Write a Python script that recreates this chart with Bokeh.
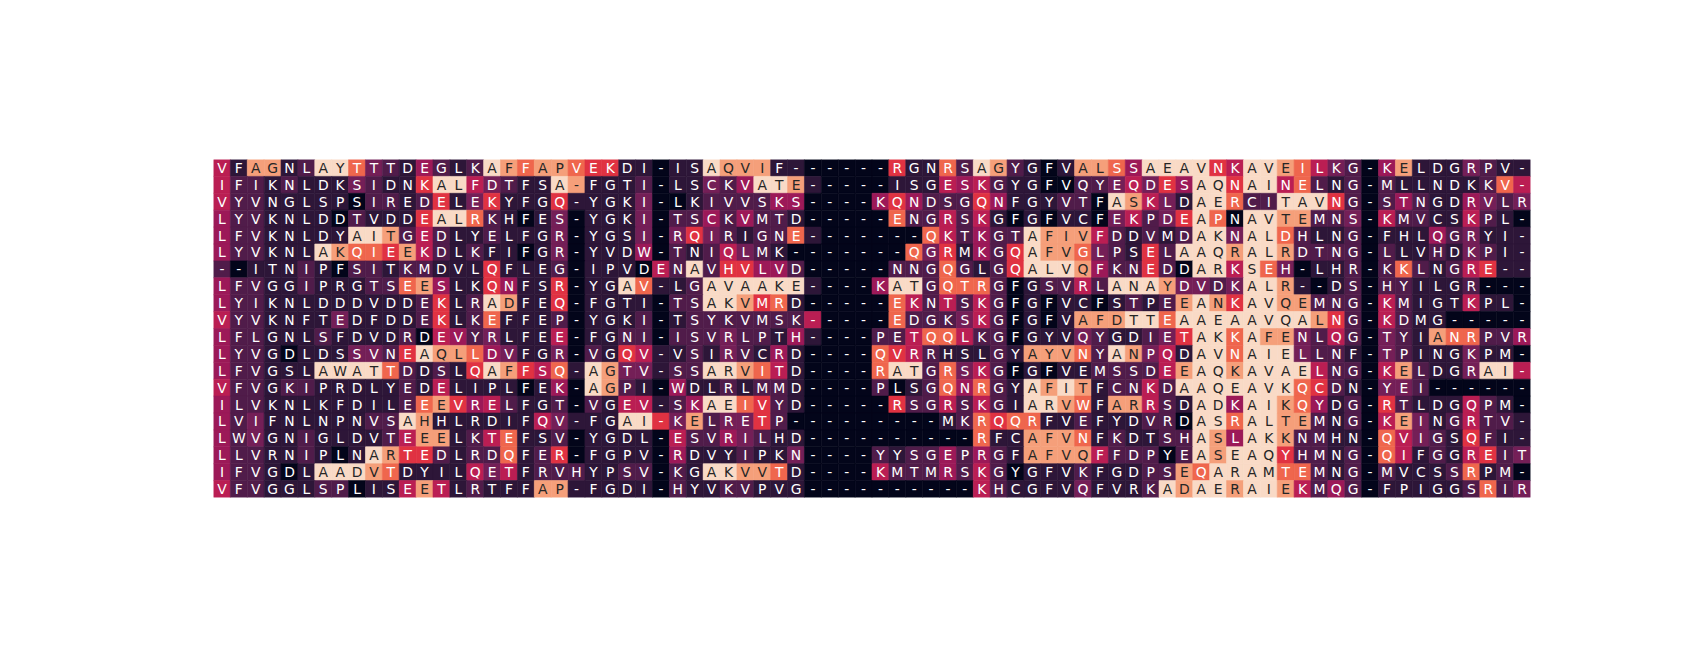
from bokeh.plotting import figure
from bokeh.models import ColumnDataSource, Range1d
from bokeh.core.properties import value
from bokeh.embed import file_html
from bokeh.resources import INLINE

# aligned sequences (one string per row, one letter per column)
seqs = [
    "VFAGNLAYTTTDEGLKAFFAPVEKDI-ISAQVIF------RGNRSAGYGFVALSSAEAVNKAVEILKG-KELDGRPV-",
    "IFIKNLDKSIDNKALFDTFSA-FGTI-LSCKVATE-----ISGESKGYGFVQYEQDESAQNAINELNG-MLLNDKKV-",
    "VYVNGLSPSIREDELEKYFGQ-YGKI-LKIVVSKS----KQNDSGQNFGYVTFASKLDAERCITAVNG-STNGDRVLR",
    "LYVKNLDDTVDDEALRKHFES-YGKI-TSCKVMTD-----ENGRSKGFGFVCFEKPDEAPNAVTEMNS-KMVCSKPL-",
    "LFVKNLDYAITGEDLYELFGR-YGSI-RQIRIGNE-------QKTKGTAFIVFDDVMDAKNALDHLNG-FHLQGRYI-",
    "LYVKNLAKQIEEKDLKFIFGR-YVDW-TNIQLMK-------QGRMKGQAFVGLPSELAAQRALRDTNG-LLVHDKPI-",
    "--ITNIPFSITKMDVLQFLEG-IPVDENAVHVLVD-----NNGQGLGQALVQFKNEDDARKSEH-LHR-KKLNGRE--",
    "LFVGGIPRGTSEESLKQNFSR-YGAV-LGAVAAKE----KATGQTRGFGSVRLANAYDVDKALR--DS-HYILGR---",
    "LYIKNLDDDVDDEKLRADFEQ-FGTI-TSAKVMRD-----EKNTSKGFGFVCFSTPEEANKAVQEMNG-KMIGTKPL-",
    "VYVKNFTEDFDDEKLKEFFEP-YGKI-TSYKVMSK-----EDGKSKGFGFVAFDTTEAAEAAVQALNG-KDMG-----",
    "LFLGNLSFDVDRDEVYRLFEE-FGNI-ISVRLPTH----PETQQLKGFGYVQYGDIETAKKAFENLQG-TYIANRPVR",
    "LYVGDLDSSVNEAQLLDVFGR-VGQV-VSIRVCRD----QVRRHSLGYAYVNYANPQDAVNAIELLNF-TPINGKPM-",
    "LFVGSLAWATTDDSLQAFFSQ-AGTV-SSARVITD----RATGRSKGFGFVEMSSDEEAQKAVAELNG-KELDGRAI-",
    "VFVGKIPRDLYEDELIPLFEK-AGPI-WDLRLMMD----PLSGQNRGYAFITFCNKDAAQEAVKQCDN-YEI------",
    "ILVKNLKFDILEEEVRELFGT-VGEV-SKAEIVYD-----RSGRSKGIARVWFARRSDADKAIKQYDG-RTLDGQPM-",
    "LVIFNLNPNVSAHHLRDIFQV-FGAI-KELRETP---------MKRQQRFVEFYDVRDASRALTEMNG-KEINGRTV-",
    "LWVGNIGLDVTEEELKTEFSV-YGDL-ESVRILHD----------RFCAFVNFKDTSHASLAKKNMHN-QVIGSQFI-",
    "LLVRNIPLNARTEDLRDQFER-FGPV-RDVYIPKN----YYSGEPRGFAFVQFFDPYEASEAQYHMNG-QIFGGREIT",
    "IFVGDLAADVTDYILQETFRVHYPSV-KGAKVVTD----KMTMRSKGYGFVKFGDPSEQARAMTEMNG-MVCSSRPM-",
    "VFVGGLSPLISEETLRTFFAP-FGDI-HYVKVPVG----------KHCGFVQFVRKADAERAIEKMQG-FPIGGSRIR",
]

# cell values (0 = low ... 9 = high), one digit per column
scores = [
    "5188129973" "2142129878" "8766110119" "8881100000" "6117298210" "1887499996" "5998753204" "81113211",
    "5221211132" "1169953211" "9811120113" "2499810000" "1115452110" "0223536499" "6995721202" "11111275",
    "5221111102" "2126136111" "6111130012" "2224400004" "6422264111" "2209853199" "7229996202" "42114323",
    "4221111021" "1169972101" "3011130224" "2422100000" "7225251010" "1103523697" "0998822305" "22115210",
    "4221111199" "8252112111" "3011130363" "2122710000" "0075242298" "8852121299" "3997211201" "11423111",
    "4221119877" "6852121101" "3011140212" "5321000000" "0736142698" "8732162999" "8998222202" "11213211",
    "2011121022" "1221116111" "2011105292" "6644200000" "2227212699" "9842262099" "5973011202" "72125611",
    "4221121112" "2784116411" "6011971129" "9999910004" "9927772012" "2529998332" "3998101202" "21112000",
    "4221111111" "1126129811" "6011110229" "9867100000" "7525252010" "1101212898" "6998822205" "21115110",
    "5221111311" "1126127111" "2011120122" "2222250000" "7222352010" "1888997999" "9999986205" "21100000",
    "4221112111" "1205423111" "5011220222" "3221410002" "2577522011" "1321123699" "7988325203" "21877224",
    "4221011133" "2698874311" "3021651121" "3214100007" "6521112188" "8729835199" "7999322103" "21113110",
    "4221119999" "7212169865" "7198331229" "9875100007" "9927352010" "1122225899" "8999952205" "82113995",
    "5221221111" "1215111101" "4098210411" "2122100002" "0127472198" "9812252999" "9999762103" "32000000",
    "4221111111" "1278645211" "2021551249" "9762100000" "6225252199" "8718852199" "4998741206" "21115210",
    "4231111112" "2981111115" "3111996382" "3362000000" "0001276771" "1211122099" "7998821205" "83125221",
    "4231121111" "2588125711" "2011110522" "4321100000" "0000071188" "8712112298" "4998221107" "53216211",
    "4221121019" "8662122712" "6011110411" "1211300002" "1224242188" "8852220298" "9996221207" "51215623",
    "4221019998" "7111153512" "2211220219" "9887100005" "2224252011" "1211122879" "9997721202" "11127120",
    "5221112201" "1585121118" "8111110211" "2211100000" "0000052111" "1311129899" "8998524201" "11112723",
]

n_rows = len(seqs)
n_cols = len(seqs[0])

# ---- colour styling: "rocket"-like colormap sampled for the 10 levels ----
rocket_anchors = [
    (0.0, (3, 5, 26)), (0.083, (53, 25, 62)), (0.25, (112, 31, 87)),
    (0.417, (173, 23, 89)), (0.583, (225, 51, 66)), (0.75, (243, 118, 81)),
    (0.917, (246, 180, 143)), (1.0, (250, 235, 221)),
]
level_pos = [0.0, 0.07, 0.16, 0.26, 0.37, 0.46, 0.58, 0.71, 0.86, 0.975]


def rocket(t):
    for (a, ca), (b, cb) in zip(rocket_anchors[:-1], rocket_anchors[1:]):
        if a <= t <= b:
            f = (t - a) / (b - a)
            return tuple(ca[i] + (cb[i] - ca[i]) * f for i in range(3))
    return rocket_anchors[-1][1]


def to_hex(c):
    return "#%02x%02x%02x" % tuple(int(round(v)) for v in c)


def lum(c):
    out = []
    for v in c:
        v = v / 255.0
        out.append(v / 12.92 if v <= 0.03928 else ((v + 0.055) / 1.055) ** 2.4)
    return 0.2126 * out[0] + 0.7152 * out[1] + 0.0722 * out[2]


palette = [rocket(t) for t in level_pos]

xs, ys, letters, fills, tcols = [], [], [], [], []
for r in range(n_rows):
    assert len(seqs[r]) == n_cols and len(scores[r]) == n_cols, r
    for c in range(n_cols):
        lvl = int(scores[r][c])
        col = palette[lvl]
        xs.append(c + 0.5)
        ys.append(r + 0.5)
        letters.append(seqs[r][c])
        fills.append(to_hex(col))
        tcols.append("#262626" if lum(col) > 0.408 else "#ffffff")

src = ColumnDataSource(dict(x=xs, y=ys, letter=letters, fill=fills, tcol=tcols))

W, H = 1700, 650
left, right, top, bottom = 213, 170, 159, 153

p = figure(width=W, height=H, output_backend="svg", toolbar_location=None,
           x_range=Range1d(0, n_cols), y_range=Range1d(n_rows, 0),
           min_border_left=left, min_border_right=right,
           min_border_top=top, min_border_bottom=bottom)
p.axis.visible = False
p.grid.visible = False
p.outline_line_color = None
p.background_fill_color = "white"
p.border_fill_color = "white"

p.rect(x="x", y="y", width=1, height=1, source=src,
       fill_color="fill", line_color="fill", line_width=0.6)
p.text(x="x", y="y", text="letter", source=src, text_color="tcol",
       text_align="center", text_baseline="middle",
       text_font=value("DejaVu Sans"), text_font_size="13.9px")

open("out.html", "w").write(file_html(p, INLINE))
